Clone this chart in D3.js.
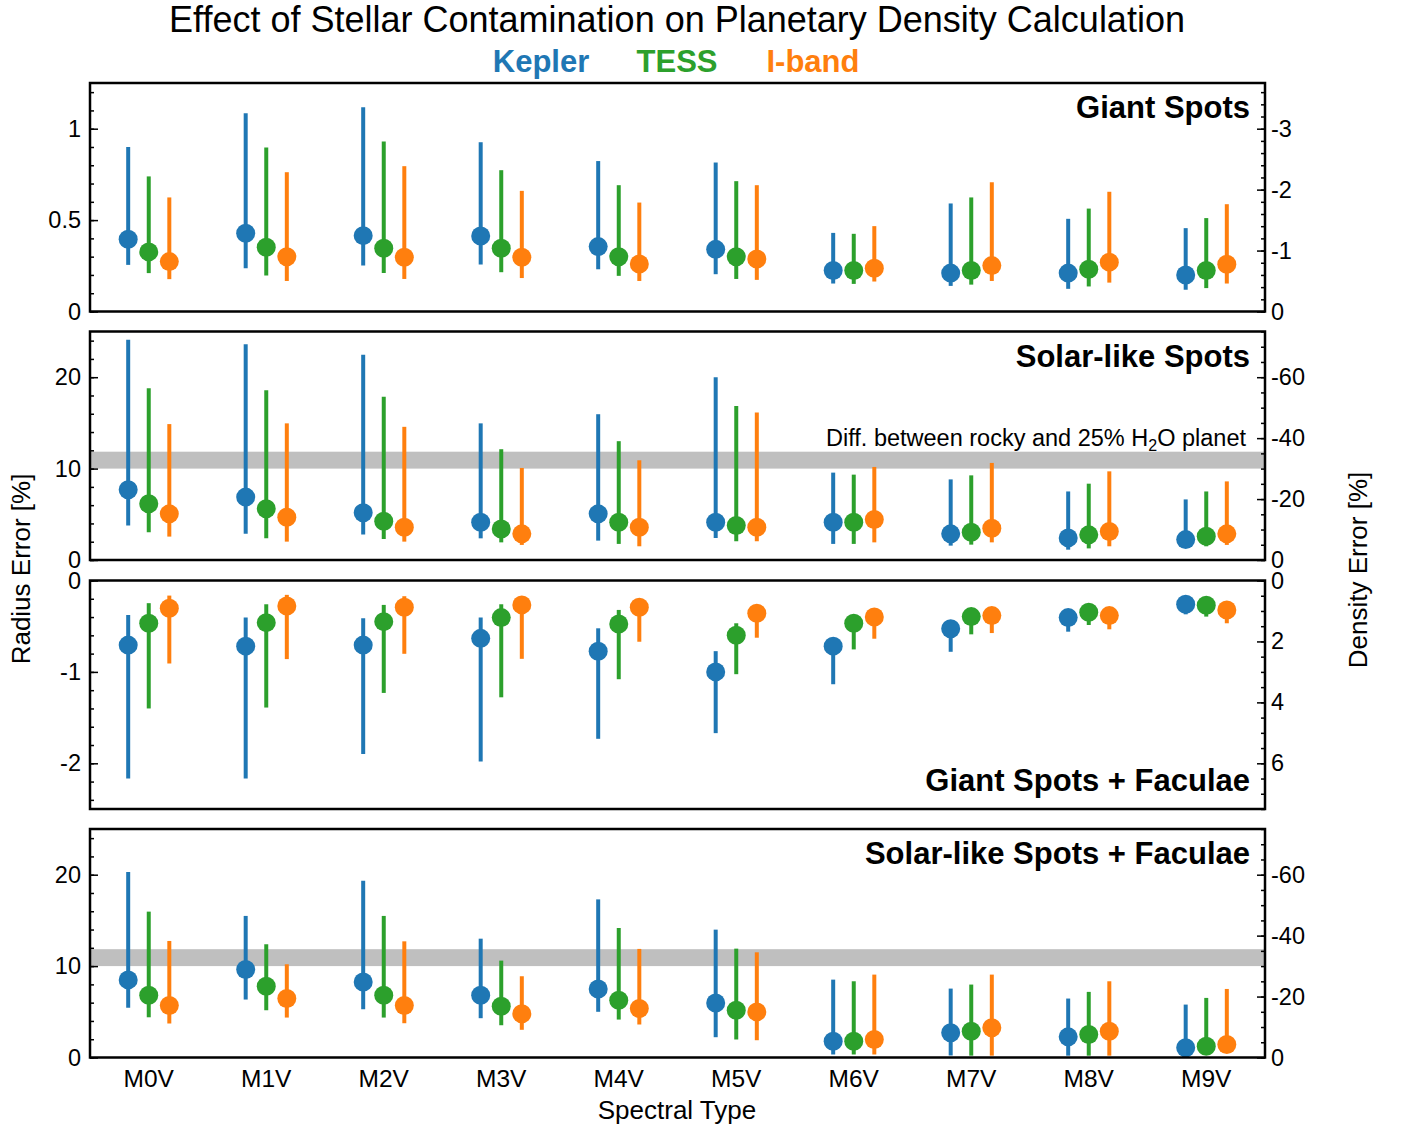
<!DOCTYPE html>
<html>
<head>
<meta charset="utf-8">
<script src="https://cdn.jsdelivr.net/npm/d3@7"></script>
<style>
  html, body { margin: 0; padding: 0; background: #fff; }
  svg { display: block; font-family: "Liberation Sans", Arial, sans-serif; }
</style>
</head>
<body>
<svg id="chart" width="1403" height="1128"></svg>
<script>
// ---------- DATA ----------
const categories = ["M0V","M1V","M2V","M3V","M4V","M5V","M6V","M7V","M8V","M9V"];
const seriesNames = ["Kepler","TESS","I-band"];
const seriesColors = ["#1f77b4","#2ca02c","#ff7f0e"];

// each entry: [lower, value, upper]  (Radius Error %)
const giantKepler = [[0.255,0.395,0.90],[0.237,0.428,1.084],[0.251,0.415,1.117],[0.257,0.413,0.926],[0.231,0.355,0.823],[0.204,0.34,0.815],[0.153,0.224,0.43],[0.14,0.21,0.591],[0.124,0.21,0.507],[0.119,0.20,0.456]];
const giantTESS   = [[0.21,0.326,0.739],[0.197,0.351,0.897],[0.211,0.346,0.93],[0.215,0.346,0.773],[0.195,0.30,0.691],[0.178,0.30,0.713],[0.151,0.224,0.425],[0.147,0.224,0.624],[0.137,0.231,0.563],[0.128,0.224,0.511]];
const giantIband  = [[0.177,0.273,0.624],[0.167,0.30,0.762],[0.178,0.297,0.795],[0.183,0.297,0.66],[0.167,0.26,0.596],[0.173,0.287,0.691],[0.164,0.237,0.467],[0.167,0.251,0.707],[0.158,0.27,0.655],[0.153,0.258,0.587]];

const solarKepler = [[3.77,7.69,24.1],[2.86,6.88,23.6],[2.78,5.16,22.45],[2.37,4.13,14.95],[2.12,5.05,15.95],[2.42,4.13,20.0],[1.76,4.13,9.56],[1.57,2.86,8.82],[1.13,2.42,7.5],[1.38,2.23,6.63]];
const solarTESS   = [[3.03,6.15,18.8],[2.37,5.6,18.57],[2.31,4.24,17.87],[1.93,3.4,12.12],[1.76,4.13,13.0],[2.04,3.77,16.85],[1.76,4.13,9.34],[1.68,3.03,9.26],[1.27,2.75,8.35],[1.5,2.6,7.5]];
const solarIband  = [[2.56,5.05,14.87],[2.01,4.68,14.95],[2.01,3.58,14.57],[1.65,2.86,10.07],[1.5,3.58,10.91],[2.04,3.58,16.15],[1.93,4.43,10.18],[1.93,3.47,10.62],[1.5,3.11,9.7],[1.65,2.86,8.6]];

const giantFacKepler = [[-2.165,-0.707,-0.377],[-2.165,-0.718,-0.406],[-1.897,-0.707,-0.413],[-1.98,-0.633,-0.406],[-1.732,-0.775,-0.523],[-1.67,-1.0,-0.773],[-1.135,-0.718,-0.66],[-0.78,-0.527,-0.47],[-0.56,-0.406,-0.36],[-0.37,-0.26,-0.22]];
const giantFacTESS   = [[-1.40,-0.468,-0.248],[-1.39,-0.461,-0.26],[-1.23,-0.45,-0.267],[-1.278,-0.406,-0.26],[-1.08,-0.476,-0.322],[-1.025,-0.6,-0.468],[-0.754,-0.468,-0.41],[-0.589,-0.395,-0.35],[-0.487,-0.348,-0.3],[-0.395,-0.271,-0.23]];
const giantFacIband  = [[-0.908,-0.303,-0.165],[-0.86,-0.278,-0.157],[-0.802,-0.293,-0.172],[-0.857,-0.267,-0.2],[-0.67,-0.293,-0.24],[-0.626,-0.358,-0.31],[-0.637,-0.399,-0.35],[-0.575,-0.384,-0.34],[-0.534,-0.384,-0.34],[-0.468,-0.322,-0.28]];

const solarFacKepler = [[5.43,8.49,20.3],[6.34,9.62,15.49],[5.28,8.27,19.34],[4.3,6.81,13.0],[5.0,7.5,17.3],[2.22,5.97,13.99],[0.33,1.78,8.52],[0.22,2.7,7.54],[0.2,2.26,6.45],[0.3,1.06,5.79]];
const solarFacTESS   = [[4.4,6.81,15.96],[5.17,7.79,12.39],[4.37,6.81,15.49],[3.53,5.61,10.6],[4.15,6.26,14.17],[1.97,5.17,11.91],[0.33,1.78,8.34],[0.2,2.88,7.98],[0.2,2.51,7.18],[0.4,1.24,6.52]];
const solarFacIband  = [[3.72,5.68,12.75],[4.37,6.45,10.2],[3.75,5.68,12.71],[3.03,4.78,8.89],[3.61,5.36,11.88],[1.89,4.99,11.51],[0.33,1.97,9.07],[0.2,3.25,9.07],[0.2,2.88,8.34],[0.5,1.42,7.5]];

const panelTitles = ["Giant Spots","Solar-like Spots","Giant Spots + Faculae","Solar-like Spots + Faculae"];
const leftTicks  = [[0,0.5,1],[0,10,20],[0,-1,-2],[0,10,20]];
const rightTicks = [[0,-1,-2,-3],[0,-20,-40,-60],[0,2,4,6],[0,-20,-40,-60]];
const bandRange = [10.0, 11.85]; // Diff. between rocky and 25% H2O planet

// ---------- LAYOUT ----------
const svg = d3.select("#chart");
const L = 90, R = 1265;
const panelTop = [83, 331.5, 580.5, 829];
const panelH = 228.5;
const FONT = "Liberation Sans, Arial, sans-serif";
const panels = [
  {data:[giantKepler,giantTESS,giantIband], dom:[0,1.25], minor:0.1, rminor:0.2, band:false, titlePos:"top"},
  {data:[solarKepler,solarTESS,solarIband], dom:[0,25], minor:2, rminor:5, band:true, bandText:true, titlePos:"top"},
  {data:[giantFacKepler,giantFacTESS,giantFacIband], dom:[-2.5,0], minor:0.2, rminor:0.5, band:false, titlePos:"bottom"},
  {data:[solarFacKepler,solarFacTESS,solarFacIband], dom:[0,25], minor:2, rminor:5, band:true, titlePos:"top"}
];

const x = d3.scaleBand().domain(categories).range([L, R]).paddingInner(0).paddingOuter(0);
const cx = c => x(c) + x.bandwidth()/2;
const offsets = [-0.175, 0, 0.175];
const fmt = d => String(d);

function minorValues(lo, hi, step) {
  const out = [];
  const n0 = Math.ceil(lo/step - 1e-9), n1 = Math.floor(hi/step + 1e-9);
  for (let i = n0; i <= n1; i++) out.push(+(i*step).toFixed(6));
  return out;
}

panels.forEach((p, pi) => {
  const top = panelTop[pi], bot = top + panelH;
  const y = d3.scaleLinear().domain(p.dom).range([bot, top]);
  const y2 = d3.scaleLinear().domain([-3*p.dom[0], -3*p.dom[1]]).range([bot, top]);
  const g = svg.append("g");

  if (p.band) {
    g.append("rect").attr("x", L).attr("width", R - L)
      .attr("y", y(bandRange[1])).attr("height", y(bandRange[0]) - y(bandRange[1]))
      .attr("fill", "#bfbfbf");
  }
  if (p.bandText) {
    const t = g.append("text").attr("x", 1246).attr("y", y(bandRange[1]) - 6)
      .attr("text-anchor", "end").attr("font-size", 23.5).attr("fill", "#000");
    t.append("tspan").text("Diff. between rocky and 25% H");
    t.append("tspan").attr("font-size", 16).attr("dy", 5).text("2");
    t.append("tspan").attr("dy", -5).text("O planet");
  }

  // error bars and markers
  p.data.forEach((ser, si) => {
    const sg = g.append("g");
    const xs = c => cx(c) + offsets[si] * x.bandwidth();
    sg.selectAll("line").data(ser).join("line")
      .attr("x1", (d,i) => xs(categories[i])).attr("x2", (d,i) => xs(categories[i]))
      .attr("y1", d => y(d[0])).attr("y2", d => y(d[2]))
      .attr("stroke", seriesColors[si]).attr("stroke-width", 4);
    sg.selectAll("circle").data(ser).join("circle")
      .attr("cx", (d,i) => xs(categories[i])).attr("cy", d => y(d[1]))
      .attr("r", 9.5).attr("fill", seriesColors[si]);
  });

  // left axis
  const la = g.append("g").attr("transform", `translate(${L},0)`)
    .call(d3.axisLeft(y).tickValues(leftTicks[pi]).tickFormat(fmt).tickSizeInner(-8).tickSizeOuter(0).tickPadding(9));
  const lm = g.append("g").attr("transform", `translate(${L},0)`)
    .call(d3.axisLeft(y).tickValues(minorValues(d3.min(p.dom), d3.max(p.dom), p.minor)).tickFormat("").tickSizeInner(-4).tickSizeOuter(0));
  // right axis
  const ra = g.append("g").attr("transform", `translate(${R},0)`)
    .call(d3.axisRight(y2).tickValues(rightTicks[pi]).tickFormat(fmt).tickSizeInner(-8).tickSizeOuter(0).tickPadding(6));
  const rd = y2.domain();
  const rm = g.append("g").attr("transform", `translate(${R},0)`)
    .call(d3.axisRight(y2).tickValues(minorValues(d3.min(rd), d3.max(rd), p.rminor)).tickFormat("").tickSizeInner(-4).tickSizeOuter(0));
  [la, lm, ra, rm].forEach(a => {
    a.select(".domain").remove();
    a.selectAll("line").attr("stroke", "#000").attr("stroke-width", 1.5);
    a.selectAll("text").attr("font-size", 23.5).attr("fill", "#000").attr("font-family", FONT);
  });

  // frame
  g.append("rect").attr("x", L).attr("y", top).attr("width", R - L).attr("height", panelH)
    .attr("fill", "none").attr("stroke", "#000").attr("stroke-width", 2.5);

  // panel title
  g.append("text").attr("x", 1250)
    .attr("y", p.titlePos === "top" ? top + 35 : bot - 18)
    .attr("text-anchor", "end").attr("font-size", 31).attr("font-weight", "bold")
    .attr("fill", "#000").text(panelTitles[pi]);

  // x tick labels on last panel
  if (pi === panels.length - 1) {
    const xa = g.append("g").attr("transform", `translate(0,${bot})`)
      .call(d3.axisBottom(x).tickSize(0).tickPadding(12));
    xa.select(".domain").remove();
    xa.selectAll("text").attr("font-size", 24.5).attr("fill", "#000").attr("font-family", FONT);
  }
});

// titles and labels
svg.append("text").attr("x", 677).attr("y", 32).attr("text-anchor", "middle")
  .attr("font-size", 36).attr("fill", "#000").text("Effect of Stellar Contamination on Planetary Density Calculation");

const legendX = [541, 677, 813];
seriesNames.forEach((n, i) => {
  svg.append("text").attr("x", legendX[i]).attr("y", 72).attr("text-anchor", "middle")
    .attr("font-size", 31).attr("font-weight", "bold").attr("fill", seriesColors[i]).text(n);
});

svg.append("text").attr("x", 677).attr("y", 1119).attr("text-anchor", "middle")
  .attr("font-size", 26).attr("fill", "#000").text("Spectral Type");

svg.append("text").attr("transform", "translate(30,569) rotate(-90)").attr("text-anchor", "middle")
  .attr("font-size", 26).attr("fill", "#000").text("Radius Error [%]");

svg.append("text").attr("transform", "translate(1367,570) rotate(-90)").attr("text-anchor", "middle")
  .attr("font-size", 26).attr("fill", "#000").text("Density Error [%]");
</script>
</body>
</html>
